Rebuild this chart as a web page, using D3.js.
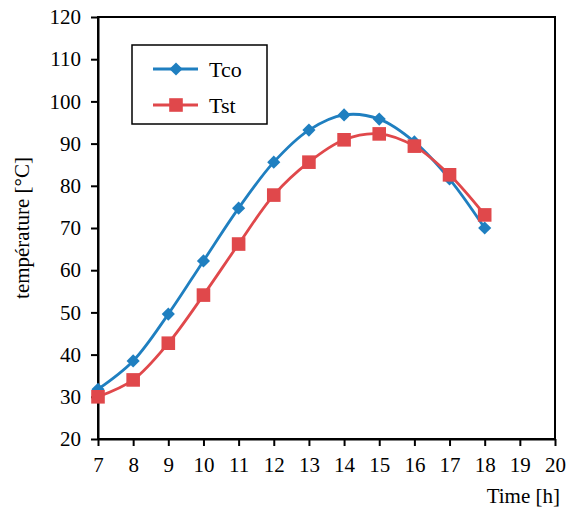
<!DOCTYPE html>
<html>
<head>
<meta charset="utf-8">
<script src="https://cdn.jsdelivr.net/npm/d3@7"></script>
<style>
  body { margin: 0; background: #fff; }
  svg text { font-family: 'Liberation Serif', 'Times New Roman', serif; }
</style>
</head>
<body>
<svg id="svg"></svg>
<script>
// data
const hours = [7, 8, 9, 10, 11, 12, 13, 14, 15, 16, 17, 18];
const tco = [31.8, 38.5, 49.6, 62.2, 74.7, 85.6, 93.2, 96.8, 95.8, 90.4, 81.6, 70.0];
const tst = [30.0, 34.0, 42.7, 54.1, 66.2, 77.8, 85.6, 90.9, 92.3, 89.4, 82.6, 73.1];
const xTicks = d3.range(7, 21);
const yTicks = d3.range(20, 121, 10);

const width = 566;
const height = 510;
const blue = "#1f7fc0";
const red = "#e0484b";

let svg = d3.select("#svg")
    .attr("width", width)
    .attr("height", height);

const margin = { top: 17, right: 11, bottom: 71, left: 98 };
let chartWidth = width - margin.left - margin.right;
let chartHeight = height - margin.top - margin.bottom;

let chart = svg.append("g")
    .attr("transform", "translate(" + margin.left + "," + margin.top + ")");

let xScale = d3.scaleLinear().domain([7, 20]).range([0, chartWidth]);
let yScale = d3.scaleLinear().domain([20, 120]).range([chartHeight, 0]);

// frame
chart.append("rect")
    .attr("width", chartWidth)
    .attr("height", chartHeight)
    .attr("fill", "none")
    .attr("stroke", "#000")
    .attr("stroke-width", 2);

let xAxis = chart.append("g")
    .attr("transform", `translate(0,${chartHeight})`)
    .call(d3.axisBottom(xScale).tickValues(xTicks).tickSize(7).tickSizeOuter(0).tickPadding(11).tickFormat(d3.format("d")));

let yAxis = chart.append("g")
    .call(d3.axisLeft(yScale).tickValues(yTicks).tickSize(7).tickSizeOuter(0).tickPadding(10).tickFormat(d3.format("d")));

[xAxis, yAxis].forEach(a => {
    a.attr("font-family", null).attr("font-size", 21);
    a.select(".domain").attr("stroke-width", 2);
    a.selectAll(".tick line").attr("stroke-width", 2);
    a.selectAll("text").attr("fill", "#000");
});

// lines
const line = d3.line()
    .x(d => xScale(d[0]))
    .y(d => yScale(d[1]))
    .curve(d3.curveCatmullRom.alpha(0.5));

const series = [
    { name: "Tco", values: tco, color: blue, symbol: d3.symbolDiamond2, size: 110 },
    { name: "Tst", values: tst, color: red, symbol: d3.symbolSquare, size: 185 }
];

series.forEach(s => {
    const pts = hours.map((h, i) => [h, s.values[i]]);
    chart.append("path")
        .datum(pts)
        .attr("d", line)
        .attr("fill", "none")
        .attr("stroke", s.color)
        .attr("stroke-width", 2.8);
});

series.forEach(s => {
    const pts = hours.map((h, i) => [h, s.values[i]]);
    chart.selectAll(".m-" + s.name)
        .data(pts)
        .enter().append("path")
        .attr("class", "m-" + s.name)
        .attr("transform", d => `translate(${xScale(d[0])},${yScale(d[1])})`)
        .attr("d", d3.symbol().type(s.symbol).size(s.size))
        .attr("fill", s.color);
});

// legend
let legend = svg.append("g").attr("transform", "translate(132,45)");
legend.append("rect")
    .attr("width", 135)
    .attr("height", 79)
    .attr("fill", "#fff")
    .attr("stroke", "#000")
    .attr("stroke-width", 1.5);

series.forEach((s, i) => {
    let g = legend.append("g").attr("transform", `translate(0,${24 + i * 36})`);
    g.append("line")
        .attr("x1", 21).attr("x2", 66)
        .attr("stroke", s.color).attr("stroke-width", 2.8);
    g.append("path")
        .attr("transform", "translate(44,0)")
        .attr("d", d3.symbol().type(s.symbol).size(s.size))
        .attr("fill", s.color);
    g.append("text")
        .attr("x", 77)
        .attr("dy", "0.35em")
        .attr("font-size", 22)
        .text(s.name);
});

// axis titles
svg.append("text")
    .attr("transform", "rotate(-90)")
    .attr("x", -(margin.top + chartHeight / 2))
    .attr("y", 29)
    .attr("text-anchor", "middle")
    .attr("font-size", 21)
    .text("température [°C]");

svg.append("text")
    .attr("x", 560)
    .attr("y", 503)
    .attr("text-anchor", "end")
    .attr("font-size", 21)
    .text("Time [h]");
</script>
</body>
</html>
